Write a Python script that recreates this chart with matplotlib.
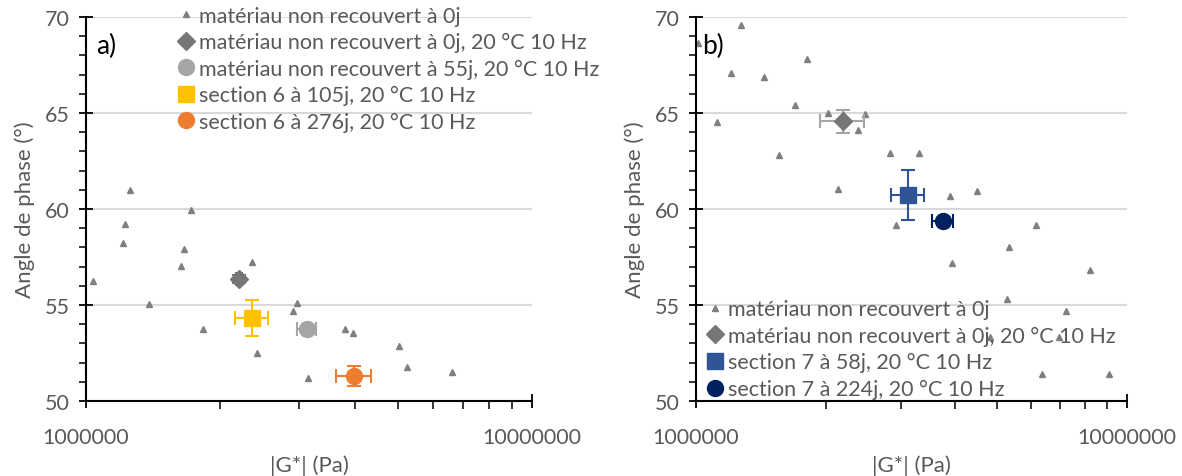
import matplotlib
matplotlib.use("Agg")
import matplotlib.pyplot as plt
from matplotlib.ticker import FixedLocator, FuncFormatter, MultipleLocator

plt.rcParams['font.family'] = ['Lato', 'DejaVu Sans']

# ---------------- data, panel a
a_tri_x = [1.038e6, 1.255e6, 1.223e6, 1.212e6, 1.384e6, 1.717e6, 1.656e6, 1.631e6,
           1.832e6, 2.36e6, 2.414e6, 2.977e6, 2.916e6, 3.141e6, 3.808e6, 3.963e6,
           5.024e6, 5.236e6, 6.617e6]
a_tri_y = [56.23, 61.0, 59.22, 58.25, 55.04, 59.96, 57.93, 57.03,
           53.77, 57.26, 52.52, 55.12, 54.7, 51.2, 53.73, 53.53,
           52.85, 51.77, 51.51]
a_pts_x = [2.204e6, 3.125e6, 2.36e6, 3.99e6]
a_pts_y = [56.35, 53.77, 54.32, 51.32]
a_xerr = [0.03e6, 0.16e6, 0.2e6, 0.36e6]
a_yerr = [0.2, 0.15, 0.95, 0.52]
a_labels = ["matériau non recouvert à 0j",
            "matériau non recouvert à 0j, 20 °C 10 Hz",
            "matériau non recouvert à 55j, 20 °C 10 Hz",
            "section 6 à 105j, 20 °C 10 Hz",
            "section 6 à 276j, 20 °C 10 Hz"]

# ---------------- data, panel b
b_tri_x = [1.011e6, 1.27e6, 1.119e6, 1.204e6, 1.436e6, 1.558e6, 1.7e6, 1.807e6,
           2.025e6, 2.14e6, 2.374e6, 2.469e6, 2.818e6, 3.3e6, 2.913e6, 3.888e6,
           3.936e6, 4.499e6, 5.264e6, 5.321e6, 6.157e6, 6.368e6, 7.241e6, 6.952e6,
           4.816e6, 8.218e6, 9.098e6]
b_tri_y = [68.64, 69.56, 64.51, 67.07, 66.86, 62.8, 65.42, 67.81,
           64.98, 61.03, 64.13, 64.93, 62.94, 62.92, 59.16, 60.68,
           57.2, 60.92, 55.31, 58.03, 59.16, 51.41, 54.67, 53.31,
           53.36, 56.83, 51.4]
b_pts_x = [2.198e6, 3.111e6, 3.746e6]
b_pts_y = [64.56, 60.73, 59.37]
b_xerr = [0.255e6, 0.28e6, 0.21e6]
b_yerr = [0.62, 1.28, 0.12]
b_labels = ["matériau non recouvert à 0j",
            "matériau non recouvert à 0j, 20 °C 10 Hz",
            "section 7 à 58j, 20 °C 10 Hz",
            "section 7 à 224j, 20 °C 10 Hz"]

tri_col = "#7f7f7f"
txt_col = "#595959"


def style_axes(ax):
    ax.set_xscale("log")
    ax.set_xlim(1e6, 1e7)
    ax.set_ylim(50, 70)
    for s in ["top", "right"]:
        ax.spines[s].set_visible(False)
    for s in ["left", "bottom"]:
        ax.spines[s].set_color("black")
        ax.spines[s].set_linewidth(1.5)
    ax.yaxis.set_major_locator(MultipleLocator(5))
    ax.yaxis.set_minor_locator(MultipleLocator(1))
    ax.xaxis.set_major_locator(FixedLocator([1e6, 1e7]))
    ax.xaxis.set_minor_locator(FixedLocator([k * 1e6 for k in range(2, 10)]))
    ax.xaxis.set_major_formatter(FuncFormatter(lambda v, p: "%d" % round(v)))
    ax.xaxis.set_minor_formatter(FuncFormatter(lambda v, p: ""))
    ax.tick_params(axis="y", which="major", direction="inout", length=10, width=1.3,
                   labelsize=15.5, labelcolor=txt_col, pad=7)
    ax.tick_params(axis="y", which="minor", direction="out", length=5, width=1.1)
    ax.tick_params(axis="x", which="major", direction="inout", length=10, width=1.3,
                   labelsize=15.5, labelcolor=txt_col, pad=14)
    ax.tick_params(axis="x", which="minor", direction="out", length=6, width=1.1)
    ax.grid(axis="y", which="major", color="#d9d9d9", linewidth=1.5)
    ax.set_axisbelow(True)
    ax.set_xlabel("|G*| (Pa)", fontsize=16, color=txt_col, labelpad=5)
    ax.set_ylabel("Angle de phase (°)", fontsize=16, color=txt_col, labelpad=7)


leg_kw = dict(frameon=False, fontsize=15.5, labelcolor=txt_col, handlelength=0.7,
              handletextpad=0.25, labelspacing=0.3, borderaxespad=0, borderpad=0)

fig = plt.figure(figsize=(11.82, 4.77), dpi=100)

# ---------------- panel a
ax1 = fig.add_axes([0.0728, 0.1572, 0.3773, 0.805])
style_axes(ax1)
h = []
h.append(ax1.plot(a_tri_x, a_tri_y, "^", color=tri_col, ms=5, ls="none")[0])
a_styles = [("D", "#767676", "#767676", 9), ("o", "#a5a5a5", "#a5a5a5", 11.5),
            ("s", "#ffc000", "#ffc000", 11), ("o", "#ed7d31", "#ed7d31", 11.5)]
for i, (m, c, ec, ms) in enumerate(a_styles):
    ax1.errorbar(a_pts_x[i], a_pts_y[i], xerr=a_xerr[i], yerr=a_yerr[i],
                 fmt="none", ecolor=ec, elinewidth=1.5, capsize=5, capthick=1.5)
    h.append(ax1.plot(a_pts_x[i], a_pts_y[i], m, color=c, ms=ms, ls="none")[0])
ax1.legend(h, a_labels, loc="upper left", bbox_to_anchor=(0.207, 1.03), **leg_kw)
ax1.text(0.022, 0.925, "a)", transform=ax1.transAxes, fontsize=19, va="center")

# ---------------- panel b
ax2 = fig.add_axes([0.5888, 0.1572, 0.3644, 0.805])
style_axes(ax2)
h = []
h.append(ax2.plot(b_tri_x, b_tri_y, "^", color=tri_col, ms=5, ls="none")[0])
b_styles = [("D", "#767676", "#a5a5a5", 9), ("s", "#2f5597", "#2f5597", 11),
            ("o", "#002060", "#002060", 11.5)]
for i, (m, c, ec, ms) in enumerate(b_styles):
    ax2.errorbar(b_pts_x[i], b_pts_y[i], xerr=b_xerr[i], yerr=b_yerr[i],
                 fmt="none", ecolor=ec, elinewidth=1.5, capsize=5, capthick=1.5)
    h.append(ax2.plot(b_pts_x[i], b_pts_y[i], m, color=c, ms=ms, ls="none")[0])
ax2.legend(h, b_labels, loc="lower left", bbox_to_anchor=(0.026, 0.005), **leg_kw)
ax2.text(0.015, 0.925, "b)", transform=ax2.transAxes, fontsize=19, va="center")

fig.savefig("out.png", dpi=100)
